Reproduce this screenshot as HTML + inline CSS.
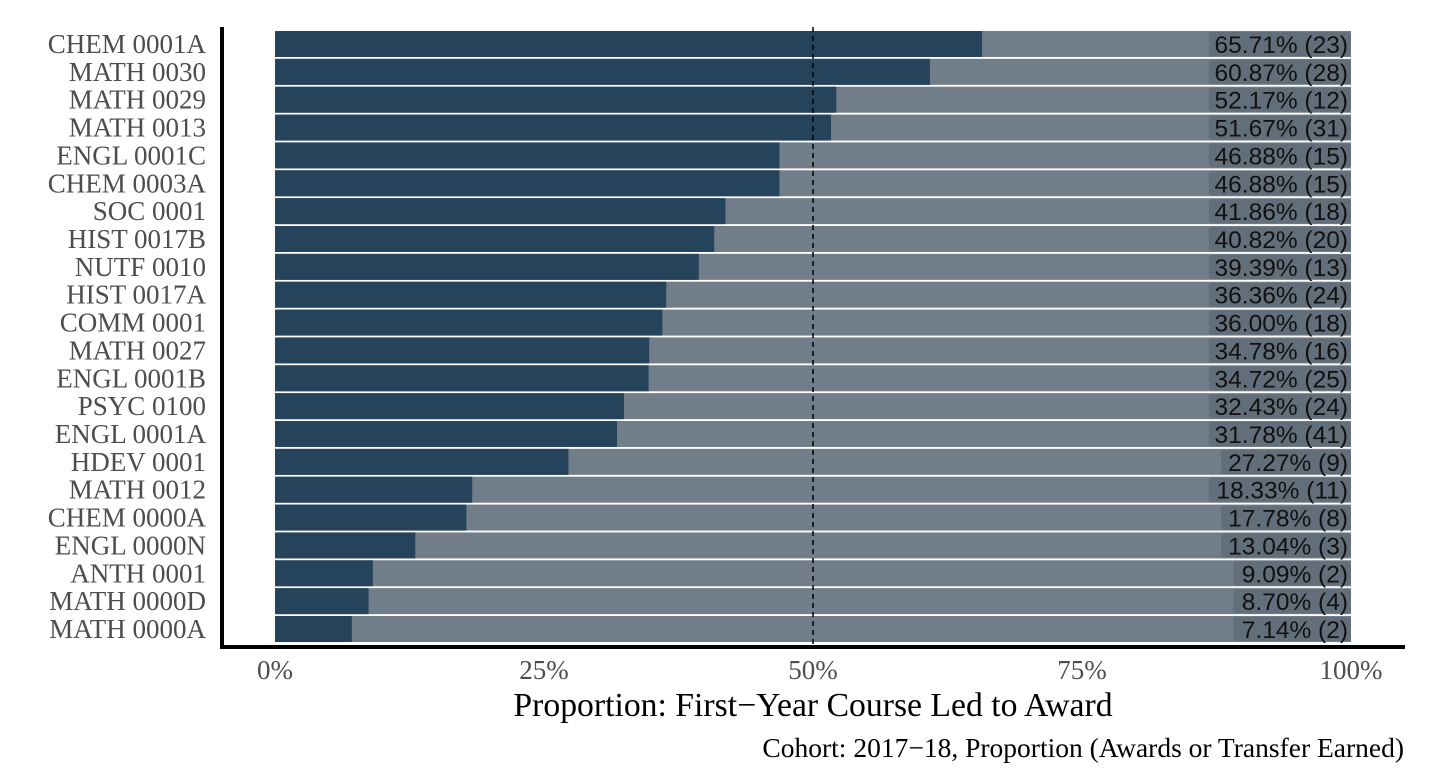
<!DOCTYPE html>
<html><head><meta charset="utf-8">
<style>
body{margin:0;background:#fff;}
svg{display:block;}
</style></head>
<body>
<svg id="chart" width="1429" height="777" xmlns="http://www.w3.org/2000/svg">
<g id="bars"></g>
<g id="ylabels"></g>
<g id="xticks"></g>
<line id="refline" stroke="#000" stroke-width="1.5" stroke-dasharray="5,4"></line>
<line x1="222" y1="27" x2="222" y2="649" stroke="#000" stroke-width="4"/>
<line x1="220" y1="647" x2="1405" y2="647" stroke="#000" stroke-width="4"/>
<text x="813" y="716" text-anchor="middle" font-family="Liberation Serif, serif" font-size="33.7" fill="#000">Proportion: First−Year Course Led to Award</text>
<text x="1404" y="757" text-anchor="end" font-family="Liberation Serif, serif" font-size="27.5" fill="#000">Cohort: 2017−18, Proportion (Awards or Transfer Earned)</text>
</svg>
<script>
const courses=["CHEM 0001A","MATH 0030","MATH 0029","MATH 0013","ENGL 0001C","CHEM 0003A","SOC 0001","HIST 0017B","NUTF 0010","HIST 0017A","COMM 0001","MATH 0027","ENGL 0001B","PSYC 0100","ENGL 0001A","HDEV 0001","MATH 0012","CHEM 0000A","ENGL 0000N","ANTH 0001","MATH 0000D","MATH 0000A"];
const proportions=[65.71,60.87,52.17,51.67,46.88,46.88,41.86,40.82,39.39,36.36,36.00,34.78,34.72,32.43,31.78,27.27,18.33,17.78,13.04,9.09,8.70,7.14];
const counts=[23,28,12,31,15,15,18,20,13,24,18,16,25,24,41,9,11,8,3,2,4,2];
const xTicks=[0,25,50,75,100];
const refValue=50;

const NS="http://www.w3.org/2000/svg";
const x=v=>275+(v/100)*(1351-275);
const yc=i=>44+i*((629-44)/21);
const BH=26;
function mk(tag,attrs,parent){const e=document.createElementNS(NS,tag);for(const k in attrs)e.setAttribute(k,attrs[k]);parent.appendChild(e);return e;}
const bars=document.getElementById('bars'),yl=document.getElementById('ylabels'),xt=document.getElementById('xticks');
courses.forEach((c,i)=>{
  const y=yc(i)-BH/2;
  const bg=mk('rect',{x:x(0),y:y,width:x(100)-x(0),height:BH,fill:'#717e89'},bars);
  
  
  const b=mk('rect',{x:x(0),y:y,width:x(proportions[i])-x(0),height:BH,fill:'#25435a'},bars);
  
  
  const txt=proportions[i].toFixed(2)+'% ('+counts[i]+')';
  const w=txt.length*12.2+8;
  const lb=mk('rect',{x:x(100)-w,y:y+1,width:w,height:BH-2,rx:3,fill:'#626e7a'},bars);
  
  
  const t=mk('text',{x:x(100)-3,y:yc(i)+9,'text-anchor':'end','font-family':'Liberation Sans, sans-serif','font-size':'24.5',fill:'#111'},bars);
  t.textContent=txt;
  
  
  const l=mk('text',{x:206,y:yc(i)+9,'text-anchor':'end','font-family':'Liberation Serif, serif','font-size':'27',fill:'#4d4d4d'},yl);
  l.textContent=c;
  
  
});
xTicks.forEach(v=>{
  const t=mk('text',{x:x(v),y:679,'text-anchor':'middle','font-family':'Liberation Serif, serif','font-size':'27',fill:'#4d4d4d'},xt);
  t.textContent=v+'%';
  
  
});
const r=document.getElementById('refline');
r.setAttribute('x1',x(refValue));r.setAttribute('x2',x(refValue));r.setAttribute('y1',27);r.setAttribute('y2',645);
</script>
</body></html>
